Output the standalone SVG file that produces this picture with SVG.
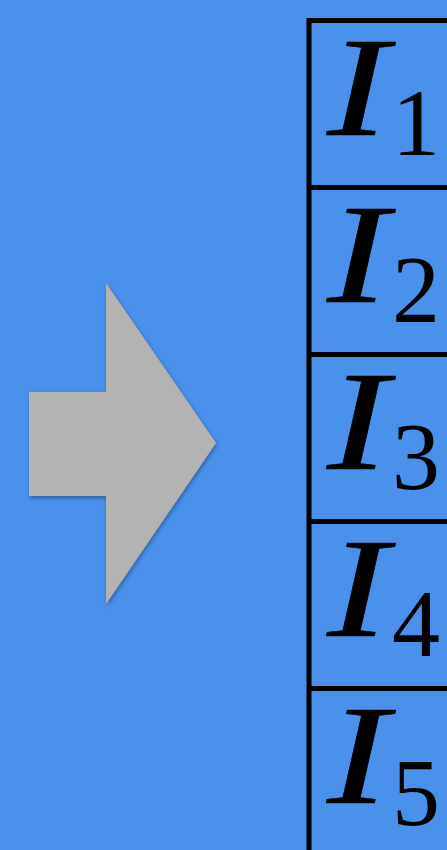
<svg xmlns="http://www.w3.org/2000/svg" width="447" height="850" viewBox="0 0 447 850">
<defs>
<style>
.ln{stroke:#000;stroke-width:5;fill:none}
.I{font-family:"Liberation Serif",serif;font-style:italic;font-size:142px;fill:#000;stroke:#000;stroke-width:0.6}
.s{font-family:"Liberation Serif",serif;font-size:96px;fill:#000}
</style>
<filter id="sh" x="-20%" y="-20%" width="140%" height="140%">
<feDropShadow dx="1" dy="2" stdDeviation="2" flood-color="#000" flood-opacity="0.35"/>
</filter>
</defs>
<rect width="447" height="850" fill="#4a91ec"/>
<g id="arrow">
<polygon points="29,392 106,392 106,283 216,443 106,604 106,496 29,496" fill="#b3b3b3" filter="url(#sh)"/>
</g>
<g id="table">
<path class="ln" d="M309,850 V20.5 H447 M309,187.5 H447 M309,354.5 H447 M309,521.5 H447 M309,688.5 H447"/>
</g>
<g id="r1"><text class="I" transform="translate(327,135) scale(1.3,1)">I</text><text class="s" x="392" y="155">1</text></g>
<g id="r2"><text class="I" transform="translate(327,302) scale(1.3,1)">I</text><text class="s" x="392" y="322">2</text></g>
<g id="r3"><text class="I" transform="translate(327,469) scale(1.3,1)">I</text><text class="s" x="392" y="489">3</text></g>
<g id="r4"><text class="I" transform="translate(327,636) scale(1.3,1)">I</text><text class="s" x="392" y="656">4</text></g>
<g id="r5"><text class="I" transform="translate(327,803) scale(1.3,1)">I</text><text class="s" x="392" y="825">5</text></g>
</svg>
